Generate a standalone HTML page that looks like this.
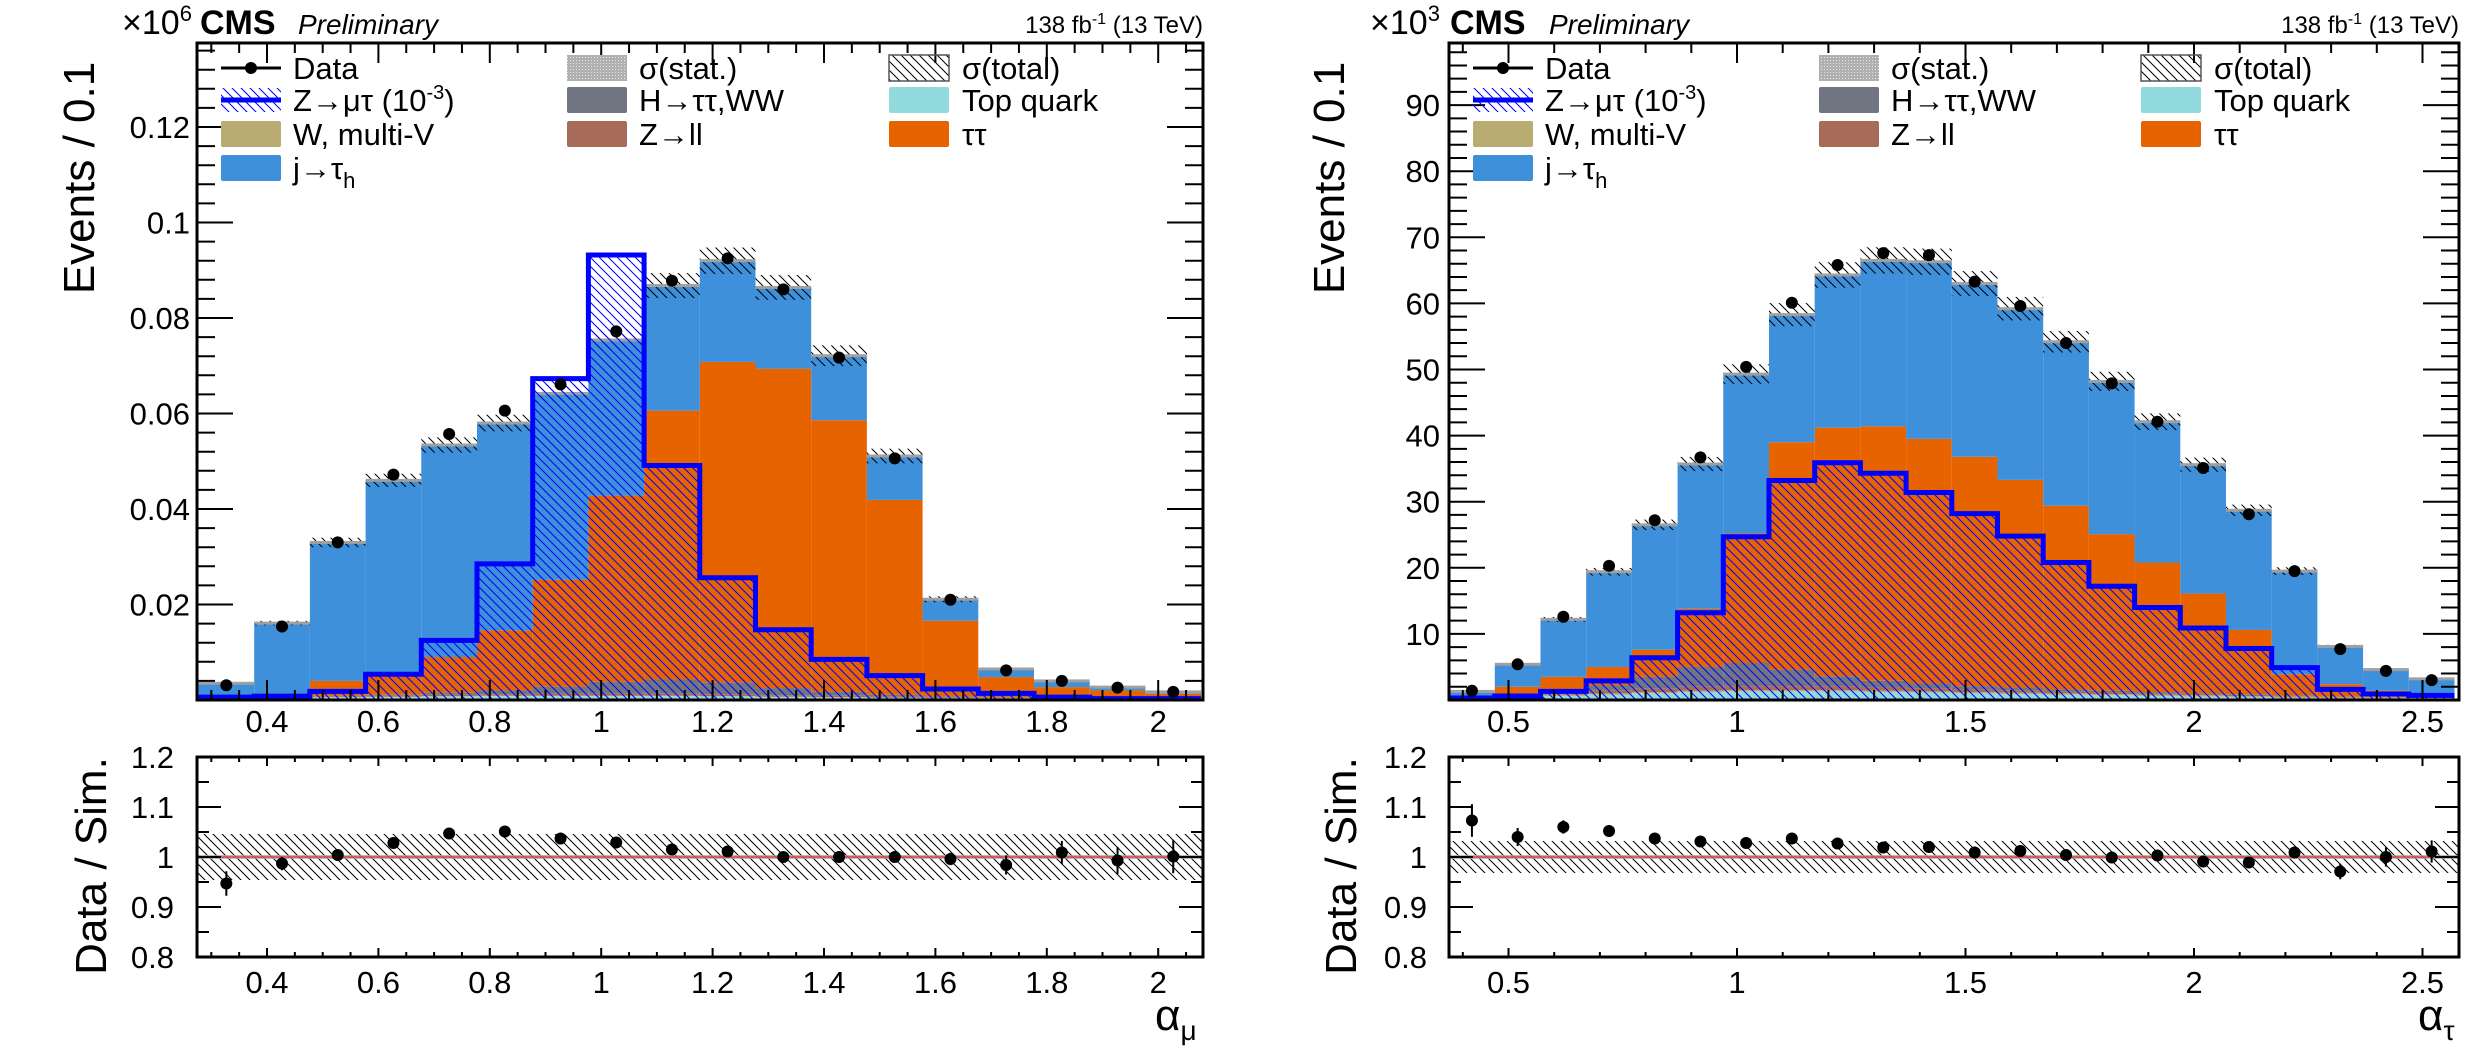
<!DOCTYPE html>
<html><head><meta charset="utf-8"><style>
html,body{margin:0;padding:0;background:#fff;}
svg{display:block;font-family:"Liberation Sans",sans-serif;}
</style></head><body>
<svg id="chart" width="2485" height="1063" viewBox="0 0 2485 1063" xmlns="http://www.w3.org/2000/svg">
<defs>
<pattern id="hatchBlack" patternUnits="userSpaceOnUse" width="9" height="9"><path d="M-1,-1 L10,10 M-1,8 L1,10 M8,-1 L10,1" stroke="#000" stroke-width="1"/></pattern>
<pattern id="hatchBlue" patternUnits="userSpaceOnUse" width="9" height="9"><path d="M-1,-1 L10,10 M-1,8 L1,10 M8,-1 L10,1" stroke="#0000ff" stroke-width="1"/></pattern>
<pattern id="statDots" patternUnits="userSpaceOnUse" width="3" height="3"><rect width="3" height="3" fill="#b0b0b0"/><rect width="1" height="1" fill="#e8e8e8"/></pattern>
</defs>
</svg>
<script>
// ===== Left panel (alpha_mu), values in units of 1e6 events =====
const leftEdgeStart = 0.277;
const leftTotal = [0.0035,0.0161,0.033,0.046,0.0534,0.058,0.0642,0.0754,0.0868,0.092,0.0864,0.0721,0.0511,0.0211,0.0065,0.004,0.0027,0.0017];
const leftTop = [0.0002,0.0003,0.0005,0.0006,0.0007,0.0008,0.0008,0.0008,0.0008,0.0007,0.0006,0.0005,0.0004,0.0003,0.0003,0.0002,0.0002,0.0001];
const leftW = [0.0001,0.0001,0.0001,0.0001,0.0001,0.0001,0.0001,0.0001,0.0001,0.0001,0.0001,0.0001,0.0001,0.0001,0.0001,0.0001,0.0001,0.0001];
const leftZll = [0.0001,0.0001,0.0002,0.0002,0.0003,0.0003,0.0004,0.0004,0.0004,0.0004,0.0003,0.0003,0.0002,0.0002,0.0001,0.0001,0.0001,0.0001];
const leftH = [0,0,0.0001,0.0002,0.0004,0.0008,0.0015,0.0025,0.003,0.0025,0.0015,0.0008,0.0004,0.0002,0.0001,0,0,0];
const leftTT = [0.0002,0.0008,0.0031,0.0047,0.0075,0.0126,0.0224,0.039,0.0563,0.0671,0.0669,0.0569,0.0408,0.0158,0.0042,0.0023,0.0016,0.001];
const leftJT = [0.0029,0.0148,0.029,0.0402,0.0444,0.0434,0.039,0.0326,0.0262,0.0212,0.017,0.0135,0.0092,0.0045,0.0017,0.0013,0.0007,0.0004];
const leftData = [0.0031,0.0154,0.033,0.0472,0.0557,0.0606,0.0661,0.0772,0.0878,0.0925,0.086,0.0717,0.0506,0.021,0.0062,0.004,0.0026,0.0017];
const leftSignal = [0.0006,0.0008,0.0018,0.0054,0.0125,0.0285,0.0673,0.0932,0.0491,0.0256,0.0147,0.0085,0.0051,0.0023,0.0014,0.0006,0.0003,0.0003];
const leftRatio = [0.947,0.987,1.004,1.028,1.047,1.051,1.037,1.029,1.015,1.011,1.0,1.0,1.0,0.996,0.984,1.009,0.993,1.001];
const leftYTicks = [0.02,0.04,0.06,0.08,0.1,0.12];
const leftYTickLabels = ["0.02","0.04","0.06","0.08","0.1","0.12"];
const leftXTicks = [0.4,0.6,0.8,1,1.2,1.4,1.6,1.8,2];
const leftXTickLabels = ["0.4","0.6","0.8","1","1.2","1.4","1.6","1.8","2"];

// ===== Right panel (alpha_tau), values in units of 1e3 events =====
const rightEdgeStart = 0.37;
const rightTotal = [1.3,5.4,12.2,19.4,26.5,35.7,49.3,58.3,64.3,66.5,66.3,63,59.2,54.2,48.2,42.1,35.6,28.7,19.5,8.1,4.6,3.2];
const rightTop = [0.2,0.4,0.6,0.8,1,1.2,1.3,1.3,1.3,1.2,1.1,1,0.9,0.8,0.7,0.6,0.5,0.4,0.3,0.2,0.2,0.1];
const rightW = [0.2,0.2,0.2,0.2,0.2,0.2,0.2,0.2,0.2,0.2,0.2,0.2,0.2,0.2,0.2,0.2,0.2,0.2,0.2,0.2,0.2,0.2];
const rightZll = [0.1,0.2,0.3,0.4,0.5,0.6,0.6,0.6,0.6,0.5,0.5,0.4,0.4,0.3,0.3,0.2,0.2,0.2,0.1,0.1,0.1,0.1];
const rightH = [0,0.1,0.3,0.8,1.8,3,3.5,2.5,1.5,1,0.7,0.5,0.4,0.3,0.2,0.2,0.1,0.1,0.1,0,0,0];
const rightTT = [0.1,1.1,2.1,2.8,4.1,8.8,19.6,34.4,37.6,38.5,37,34.7,31.4,27.8,23.7,19.6,15.1,9.7,3.2,1.9,0.9,0.4];
const rightJT = [0.7,3.4,8.7,14.4,18.9,21.9,24.1,19.3,23.1,25.1,26.8,26.2,25.9,24.8,23.1,21.3,19.5,18.1,15.6,5.7,3.2,2.4];
const rightData = [1.4,5.4,12.6,20.3,27.2,36.7,50.4,60.1,65.8,67.6,67.3,63.3,59.6,54,47.9,42.1,35.1,28.1,19.5,7.7,4.4,3.0];
const rightSignal = [0.3,0.6,1.3,2.9,6.4,13.2,24.7,33.2,35.9,34.3,31.4,28.2,24.8,20.8,17.2,14,10.9,7.8,4.9,1.6,0.9,0.7];
const rightRatio = [1.073,1.04,1.06,1.052,1.037,1.031,1.028,1.037,1.027,1.019,1.02,1.009,1.012,1.004,0.999,1.003,0.991,0.989,1.009,0.971,1.0,1.011];
const rightYTicks = [10,20,30,40,50,60,70,80,90];
const rightYTickLabels = ["10","20","30","40","50","60","70","80","90"];
const rightXTicks = [0.5,1,1.5,2,2.5];
const rightXTickLabels = ["0.5","1","1.5","2","2.5"];

const ratioTicks = [0.8,0.9,1,1.1,1.2];
const ratioTickLabels = ["0.8","0.9","1","1.1","1.2"];

const NS = "http://www.w3.org/2000/svg";
const svg = document.getElementById('chart');
function mk(tag, attrs, parent){
  const e = document.createElementNS(NS, tag);
  for (const k in attrs) e.setAttribute(k, attrs[k]);
  (parent||svg).appendChild(e);
  return e;
}
const COL = {jt:'#3f90da', tt:'#e76300', top:'#92dadd', w:'#b9ac70', zll:'#a96b59', h:'#717581'};

function panel(cfg){
  const g = mk('g', {});
  
  
  const X = v => cfg.x0 + (v - cfg.xv0) * cfg.xs;
  const Y = v => 700 - v * cfg.ys;
  const R = r => 857 - (r - 1) * 500;
  const L = cfg.left, Rt = cfg.right, T = 43, B = 700, RT = 757, RB = 957;
  const n = cfg.total.length;
  const edge = i => X(cfg.edge0 + 0.1 * i);
  const comps = [[cfg.top,COL.top,'top-quark'],[cfg.w,COL.w,'w-multiv'],[cfg.zll,COL.zll,'z-ll'],[cfg.h,COL.h,'h-tautau-ww'],[cfg.tt,COL.tt,'tautau'],[cfg.jt,COL.jt,'j-to-tauh']];
  const base = new Array(n).fill(0);
  comps.forEach(([arr,col,nm])=>{
    for(let i=0;i<n;i++){
      const a = Math.max(edge(i), L), b = Math.min(edge(i+1), Rt);
      const y1 = Y(base[i] + arr[i]), y0 = Y(base[i]);
      if (b > a && y0 - y1 > 0) {
        const r = mk('rect', {x:a, y:y1, width:b-a, height:y0-y1, fill:col}, g);
        
        
      }
      base[i] += arr[i];
    }
  });
  for(let i=0;i<n;i++){
    const a = Math.max(edge(i), L), b = Math.min(edge(i+1), Rt);
    const t = cfg.total[i];
    const u = mk('rect', {x:a, y:Y(t*1.03), width:b-a, height:Y(t*0.97)-Y(t*1.03), fill:'url(#hatchBlack)'}, g);
    
    
    const s = mk('rect', {x:a, y:Y(t)-1.5, width:b-a, height:3, fill:'#a0a0a0'}, g);
    
    
  }
  let d = '';
  for(let i=0;i<n;i++){
    const a = Math.max(edge(i), L), b = Math.min(edge(i+1), Rt);
    d += (i===0 ? 'M'+a+','+Y(0)+' L' : ' L') + a + ',' + Y(cfg.signal[i]) + ' L' + b + ',' + Y(cfg.signal[i]);
  }
  const sa = mk('path', {d: d + ' L' + Math.min(edge(n),Rt) + ',' + Y(0) + ' Z', fill:'url(#hatchBlue)', stroke:'none'}, g);
  
  
  const sl = mk('path', {d: d.replace(/^M[^L]*L/, 'M') , fill:'none', stroke:'#0000ff', 'stroke-width':5}, g);
  
  
  const sb = mk('line', {x1:L, y1:B-2, x2:Math.min(edge(1),Rt), y2:B-2, stroke:'#0000ff', 'stroke-width':5}, g);
  
  
  for(let i=0;i<n;i++){
    const cx = X(cfg.edge0 + 0.1*i + 0.05);
    const v = cfg.data[i];
    const p = mk('circle', {cx:cx, cy:Y(v), r:6, fill:'#000'}, g);
    
    
  }
  const rb = mk('rect', {x:L, y:R(1+cfg.band), width:Rt-L, height:R(1-cfg.band)-R(1+cfg.band), fill:'url(#hatchBlack)'}, g);
  
  
  const rs = mk('rect', {x:L, y:R(1.004), width:Rt-L, height:R(0.996)-R(1.004), fill:'#a8a8a8', opacity:0.8}, g);
  
  
  const rl = mk('line', {x1:L, y1:R(1), x2:Rt, y2:R(1), stroke:'#ff0000', 'stroke-width':1}, g);
  
  
  const maxT = Math.max(...cfg.total);
  for(let i=0;i<n;i++){
    const cx = X(cfg.edge0 + 0.1*i + 0.05);
    const r = cfg.ratio[i];
    const err = 0.004 + 0.004 * Math.sqrt(maxT / Math.max(cfg.total[i],1e-9));
    const eb = mk('line', {x1:cx, y1:R(r+err), x2:cx, y2:R(r-err), stroke:'#000', 'stroke-width':2}, g);
    
    
    const p = mk('circle', {cx:cx, cy:R(r), r:6, fill:'#000'}, g);
    
    
  }
  [[T,B,'main-frame'],[RT,RB,'ratio-frame']].forEach(([t,b,nm])=>{
    const f = mk('rect', {x:L, y:t, width:Rt-L, height:b-t, fill:'none', stroke:'#000', 'stroke-width':3}, g);
    
    
  });
  let tk = '';
  const xMinorStep = cfg.xMinor;
  for (let v = Math.ceil(cfg.xv0L / xMinorStep) * xMinorStep; X(v) < Rt; v += xMinorStep) {
    const x = X(v); if (x <= L) continue;
    const isMaj = Math.abs(v / cfg.xMajor - Math.round(v / cfg.xMajor)) < 1e-6;
    const lm = isMaj ? 20 : 10, lr = isMaj ? 9 : 5;
    tk += `M${x},${B} v${-lm} M${x},${T} v${lm} M${x},${RB} v${-lr} M${x},${RT} v${lr} `;
  }
  for (let v = cfg.yMinor; Y(v) > T; v += cfg.yMinor) {
    const y = Y(v);
    const isMaj = Math.abs(v / cfg.yMajor - Math.round(v / cfg.yMajor)) < 1e-6;
    const l = isMaj ? 36 : 18;
    tk += `M${L},${y} h${l} M${Rt},${y} h${-l} `;
  }
  for (let v = 0.8; v < 1.2001; v += 0.05) {
    const y = R(v);
    const isMaj = Math.abs(v*10 - Math.round(v*10)) < 1e-6;
    const l = isMaj ? 24 : 12;
    tk += `M${L},${y} h${l} M${Rt},${y} h${-l} `;
  }
  const tkp = mk('path', {d:tk, stroke:'#000', 'stroke-width':2, fill:'none'}, g);
  
  
  cfg.xTicks.forEach((v,i)=>{
    [[721,'x-tick-label'],[982,'ratio-x-tick-label']].forEach(([yy,nm])=>{
      const t = mk('text', {x:X(v), y:yy+11, 'font-size':31, 'text-anchor':'middle'}, g);
      t.textContent = cfg.xTickLabels[i];
      
      
    });
  });
  cfg.yTicks.forEach((v,i)=>{
    const t = mk('text', {x:cfg.yLabX, y:Y(v)+11, 'font-size':31, 'text-anchor':'end'}, g);
    t.textContent = cfg.yTickLabels[i];
    
    
  });
  ratioTicks.forEach((v,i)=>{
    const t = mk('text', {x:cfg.rLabX, y:R(v)+11, 'font-size':31, 'text-anchor':'end'}, g);
    t.textContent = ratioTickLabels[i];
    
    
  });
  return g;
}

panel({name:'left-panel', left:197, right:1203, x0:267, xv0:0.4, xs:557, xv0L:0.25, edge0:leftEdgeStart, ys:4775,
  total:leftTotal, top:leftTop, w:leftW, zll:leftZll, h:leftH, tt:leftTT, jt:leftJT, data:leftData, signal:leftSignal, ratio:leftRatio, band:0.046,
  xMinor:0.05, xMajor:0.2, yMinor:0.004, yMajor:0.02, xTicks:leftXTicks, xTickLabels:leftXTickLabels, yTicks:leftYTicks, yTickLabels:leftYTickLabels, yLabX:190, rLabX:174});
panel({name:'right-panel', left:1449, right:2459, x0:1737, xv0:1, xs:457, xv0L:0.3, edge0:rightEdgeStart, ys:6.61,
  total:rightTotal, top:rightTop, w:rightW, zll:rightZll, h:rightH, tt:rightTT, jt:rightJT, data:rightData, signal:rightSignal, ratio:rightRatio, band:0.032,
  xMinor:0.1, xMajor:0.5, yMinor:2, yMajor:10, xTicks:rightXTicks, xTickLabels:rightXTickLabels, yTicks:rightYTicks, yTickLabels:rightYTickLabels, yLabX:1440, rLabX:1427});
</script>
<svg style="position:absolute;left:0;top:0" width="2485" height="1063" font-family="Liberation Sans, sans-serif">
<g>
<text x="122" y="34" font-size="34">×10<tspan dy="-13" font-size="22">6</tspan></text>
<text x="200" y="34" font-size="34" font-weight="bold">CMS</text>
<text x="298" y="34" font-size="28" font-style="italic">Preliminary</text>
<text x="1203" y="33" font-size="24" text-anchor="end">138 fb<tspan dy="-9" font-size="16">-1</tspan><tspan dy="9"> (13 TeV)</tspan></text>
<text transform="translate(94,178) rotate(-90)" font-size="44" text-anchor="middle">Events / 0.1</text>
<text transform="translate(106,866) rotate(-90)" font-size="44" text-anchor="middle">Data / Sim.</text>
<text x="1155" y="1030" font-size="44">α<tspan dy="10" font-size="28">μ</tspan></text>
</g>
<g>
<text x="1370" y="34" font-size="34">×10<tspan dy="-13" font-size="22">3</tspan></text>
<text x="1450" y="34" font-size="34" font-weight="bold">CMS</text>
<text x="1549" y="34" font-size="28" font-style="italic">Preliminary</text>
<text x="2459" y="33" font-size="24" text-anchor="end">138 fb<tspan dy="-9" font-size="16">-1</tspan><tspan dy="9"> (13 TeV)</tspan></text>
<text transform="translate(1344,178) rotate(-90)" font-size="44" text-anchor="middle">Events / 0.1</text>
<text transform="translate(1356,866) rotate(-90)" font-size="44" text-anchor="middle">Data / Sim.</text>
<text x="2418" y="1030" font-size="44">α<tspan dy="10" font-size="28">τ</tspan></text>
</g>
</svg>
<script>
const legendEntries = [
  ['Data','data',0,0],['σ(stat.)','stat',1,0],['σ(total)','total',2,0],
  ['Z→μτ (10','signal',0,1],['H→ττ,WW','h',1,1],['Top quark','top',2,1],
  ['W, multi-V','w',0,2],['Z→ll','zll',1,2],['ττ','tt',2,2],
  ['j→τ','jt',0,3]
];
const rowY = [68,100,134,168];
const colBox = [24,370,692];
const colText = [96,442,765];
const fillMap = {h:'#717581',top:'#92dadd',w:'#b9ac70',zll:'#a96b59',tt:'#e76300',jt:'#3f90da'};
const ann = document.querySelectorAll('svg')[1];
[197,1449].forEach((L,pi)=>{
  const g = document.createElementNS(NS,'g');
  
  
  ann.appendChild(g);
  legendEntries.forEach(([label,key,c,r])=>{
    const bx = L + colBox[c], y = rowY[r], tx = L + colText[c];
    if (key==='data') {
      mk('line',{x1:bx,y1:y,x2:bx+60,y2:y,stroke:'#000','stroke-width':3},g);
      mk('circle',{cx:bx+30,cy:y,r:6,fill:'#000'},g);
    } else if (key==='signal') {
      mk('rect',{x:bx,y:y-12,width:60,height:24,fill:'url(#hatchBlue)'},g);
      mk('line',{x1:bx,y1:y,x2:bx+60,y2:y,stroke:'#0000ff','stroke-width':5},g);
    } else if (key==='stat') {
      mk('rect',{x:bx,y:y-13,width:60,height:26,fill:'url(#statDots)'},g);
    } else if (key==='total') {
      mk('rect',{x:bx,y:y-13,width:60,height:26,fill:'url(#hatchBlack)',stroke:'#555','stroke-width':1.5},g);
    } else {
      mk('rect',{x:bx,y:y-13,width:60,height:26,rx:2,fill:fillMap[key]},g);
    }
    const t = mk('text',{x:tx,y:y+11,'font-size':31},g);
    
    
    if (key==='signal') {
      t.textContent = label;
      const s1 = mk('tspan',{dy:-12,'font-size':20},t); s1.textContent='-3';
      const s2 = mk('tspan',{dy:12},t); s2.textContent=')';
    } else if (key==='jt') {
      t.textContent = label;
      const s1 = mk('tspan',{dy:9,'font-size':22},t); s1.textContent='h';
    } else t.textContent = label;
  });
});
</script>
</body></html>
